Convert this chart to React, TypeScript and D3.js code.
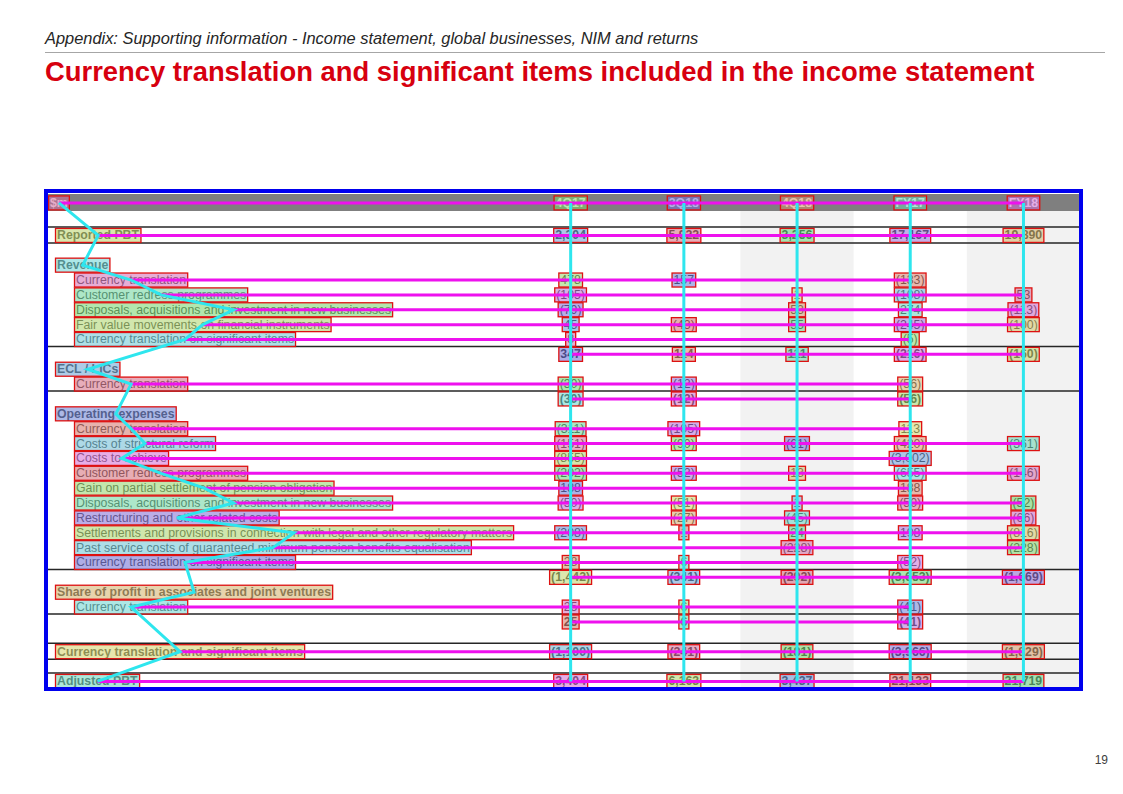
import React, { useEffect, useRef } from "react";
import * as d3 from "d3";

// table columns and rows
const columns = ["4Q17", "3Q18", "4Q18", "FY17", "FY18"];
const shadedColumns = ["4Q18", "FY18"];

const rowLabels = [
  "Reported PBT",
  "Revenue",
  "Currency translation",
  "Customer redress programmes",
  "Disposals, acquisitions and investment in new businesses",
  "Fair value movements on financial instruments",
  "Currency translation on significant items",
  "",
  "ECL / LICs",
  "Currency translation",
  "",
  "Operating expenses",
  "Currency translation",
  "Costs of structural reform",
  "Costs to achieve",
  "Customer redress programmes",
  "Gain on partial settlement of pension obligation",
  "Disposals, acquisitions and investment in new businesses",
  "Restructuring and other related costs",
  "Settlements and provisions in connection with legal and other regulatory matters",
  "Past service costs of guaranteed minimum pension benefits equalisation",
  "Currency translation on significant items",
  "",
  "Share of profit in associates and joint ventures",
  "Currency translation",
  "",
  "Currency translation and significant items",
  "Adjusted PBT",
];

const rowKinds = [
  "main", "section", "item", "item", "item", "item", "item", "total",
  "section", "item", "total",
  "section", "item", "item", "item", "item", "item", "item", "item", "item", "item", "item", "total",
  "section", "item", "total",
  "main", "main",
];

// values in $m, null = blank
const q4_17 = [2304, null, 478, -105, -79, 45, 8, 347, null, -30, -30, null, -311, -151, -855, -202, 188, -50, null, -208, null, 28, -1442, null, 25, 25, -1100, 3404];
const q3_18 = [5922, null, 157, null, null, -43, null, 114, null, -12, -12, null, -105, -90, null, -52, null, -51, -27, 1, null, 6, -341, null, 6, 6, -241, 6163];
const q4_18 = [3256, null, null, 1, 53, 55, null, 111, null, null, null, null, null, -61, null, 13, null, 1, -45, 24, -228, null, -292, null, null, null, -181, 3437];
const fy17 = [17167, null, -133, -108, 274, -245, -5, -216, null, -56, -56, null, 113, -420, -3002, -655, 188, -50, null, 198, null, -52, -3653, null, -41, -41, -3966, 21133];
const fy18 = [19890, null, null, 53, -113, -100, null, -160, null, null, null, null, null, -361, null, -146, null, -52, -66, -816, -228, null, -1669, null, null, null, -1829, 21719];

const seriesValues = [q4_17, q3_18, q4_18, fy17, fy18];

const fmt = (v: number | null) => {
  if (v === null || v === undefined) return "";
  const s = d3.format(",")(Math.abs(v));
  return v < 0 ? `(${s})` : s;
};

const App = () => {
  const ref = useRef<SVGSVGElement>(null);

  useEffect(() => {
    const svg = d3.select(ref.current);
    svg.selectAll("*").remove();
    const font = "'Liberation Sans', Arial, sans-serif";

    svg.append("rect").attr("width", 1123).attr("height", 794).attr("fill", "#fff");

    // page header
    svg
      .append("text")
      .attr("x", 45)
      .attr("y", 44)
      .attr("font-family", font)
      .attr("font-style", "italic")
      .attr("font-size", 16.4)
      .attr("fill", "#262626")
      .text("Appendix: Supporting information - Income statement, global businesses, NIM and returns");
    svg
      .append("line")
      .attr("x1", 45)
      .attr("x2", 1105)
      .attr("y1", 52.5)
      .attr("y2", 52.5)
      .attr("stroke", "#a6a6a6")
      .attr("stroke-width", 1);
    svg
      .append("text")
      .attr("x", 45)
      .attr("y", 81)
      .attr("font-family", font)
      .attr("font-weight", "bold")
      .attr("font-size", 27.4)
      .attr("fill", "#d7000f")
      .text("Currency translation and significant items included in the income statement");
    svg
      .append("text")
      .attr("x", 1108)
      .attr("y", 764)
      .attr("text-anchor", "end")
      .attr("font-family", font)
      .attr("font-size", 12)
      .attr("fill", "#404040")
      .text("19");

    // scales
    const x: any = d3.scaleBand().domain(columns).range([514, 1080]);
    const slots: number[] = [];
    let s = -1;
    rowKinds.forEach((k, i) => {
      s += 1;
      if (i > 0 && (k === "main" || (k === "section" && rowKinds[i - 1] === "main"))) s += 1;
      slots.push(s);
    });
    const y: any = d3.scaleLinear().domain([0, d3.max(slots) as number]).range([235, 681]);
    const headY = 202.5;
    const tableLeft = 48;
    const tableRight = 1080;
    const tableBottom = 688;

    // shaded columns and header band
    svg
      .selectAll(".shade")
      .data(shadedColumns)
      .enter()
      .append("rect")
      .attr("x", (d: any) => x(d))
      .attr("y", 211)
      .attr("width", x.bandwidth())
      .attr("height", tableBottom - 211)
      .attr("fill", "#f2f2f2");
    svg
      .append("rect")
      .attr("x", tableLeft)
      .attr("y", 194)
      .attr("width", tableRight - tableLeft)
      .attr("height", 17)
      .attr("fill", "#7f7f7f");

    // rules
    const rules: number[] = [];
    rowKinds.forEach((k, i) => {
      if (k === "main") {
        rules.push(y(slots[i]) - 8);
        if (i < rowKinds.length - 1) rules.push(y(slots[i]) + 8);
      }
      if (k === "total") rules.push(y(slots[i]) - 7.5);
    });
    svg
      .selectAll(".rule")
      .data(rules)
      .enter()
      .append("line")
      .attr("x1", tableLeft)
      .attr("x2", tableRight)
      .attr("y1", (d: any) => d)
      .attr("y2", (d: any) => d)
      .attr("stroke", "#262626")
      .attr("stroke-width", 1.6);

    // cells
    const cells: any[] = [];
    cells.push({ text: "$m", x: 50, y: headY, anchor: "start", bold: true, fill: "#ffffff", row: -1, col: -1 });
    columns.forEach((c, j) =>
      cells.push({ text: c, x: x(c) + x.bandwidth() / 2, y: headY, anchor: "middle", bold: true, fill: "#ffffff", row: -1, col: j })
    );
    rowLabels.forEach((lab, i) => {
      const k = rowKinds[i];
      const yy = y(slots[i]);
      if (lab)
        cells.push({
          text: lab,
          x: k === "item" ? 76 : 57,
          y: yy,
          anchor: "start",
          bold: k !== "item",
          fill: k === "item" ? "#404040" : "#3a3a3a",
          row: i,
          col: -1,
        });
      seriesValues.forEach((vals, j) => {
        const t = fmt(vals[i]);
        if (!t) return;
        cells.push({
          text: t,
          x: x(columns[j]) + x.bandwidth() / 2,
          y: yy,
          anchor: "middle",
          bold: k === "total" || k === "main",
          fill: "#262626",
          row: i,
          col: j,
        });
      });
    });

    const texts = svg
      .selectAll(".cell")
      .data(cells)
      .enter()
      .append("text")
      .attr("x", (d: any) => d.x)
      .attr("y", (d: any) => d.y)
      .attr("dy", "0.36em")
      .attr("text-anchor", (d: any) => d.anchor)
      .attr("font-family", font)
      .attr("font-size", 12.3)
      .attr("font-weight", (d: any) => (d.bold ? "bold" : "normal"))
      .attr("fill", (d: any) => d.fill)
      .text((d: any) => d.text);

    texts.each(function (d: any) {
      const b = (this as SVGTextElement).getBBox();
      d.bx = b.x - 1.5;
      d.by = b.y;
      d.bw = b.width + 3;
      d.bh = b.height;
      d.cx = b.x + b.width / 2;
      d.cy = b.y + b.height / 2;
    });

    // annotation boxes
    svg
      .selectAll(".box")
      .data(cells)
      .enter()
      .append("rect")
      .attr("x", (d: any) => d.bx)
      .attr("y", (d: any) => d.by)
      .attr("width", (d: any) => d.bw)
      .attr("height", (d: any) => d.bh)
      .attr("fill", (d: any, i: number) => d3.hsl((i * 137.5 + 330) % 360, 0.55, 0.62).toString())
      .attr("fill-opacity", 0.55)
      .attr("stroke", "#dd1111")
      .attr("stroke-width", 1.3);

    const line = d3
      .line<any>()
      .x((d: any) => d.cx)
      .y((d: any) => d.cy);

    // row links
    const rowIds = [-1, ...rowLabels.map((_, i) => i)];
    rowIds.forEach((r) => {
      const pts = cells.filter((c) => c.row === r).sort((a, b) => a.cx - b.cx);
      if (pts.length < 2) return;
      svg
        .append("path")
        .attr("d", line(pts))
        .attr("fill", "none")
        .attr("stroke", "#ee11ee")
        .attr("stroke-width", 3);
    });

    // column links
    [-1, 0, 1, 2, 3, 4].forEach((c) => {
      const pts = cells.filter((d) => d.col === c).sort((a, b) => a.cy - b.cy);
      if (pts.length < 2) return;
      svg
        .append("path")
        .attr("d", line(pts))
        .attr("fill", "none")
        .attr("stroke", "#2ee6ee")
        .attr("stroke-width", 3);
    });

    // table frame
    svg
      .append("rect")
      .attr("x", 46)
      .attr("y", 191)
      .attr("width", 1035)
      .attr("height", 498)
      .attr("fill", "none")
      .attr("stroke", "#0000ee")
      .attr("stroke-width", 4);
  }, []);

  return (
    <svg
      ref={ref}
      width={1123}
      height={794}
      style={{ position: "absolute", left: 0, top: 0 }}
    ></svg>
  );
};

export default App;
